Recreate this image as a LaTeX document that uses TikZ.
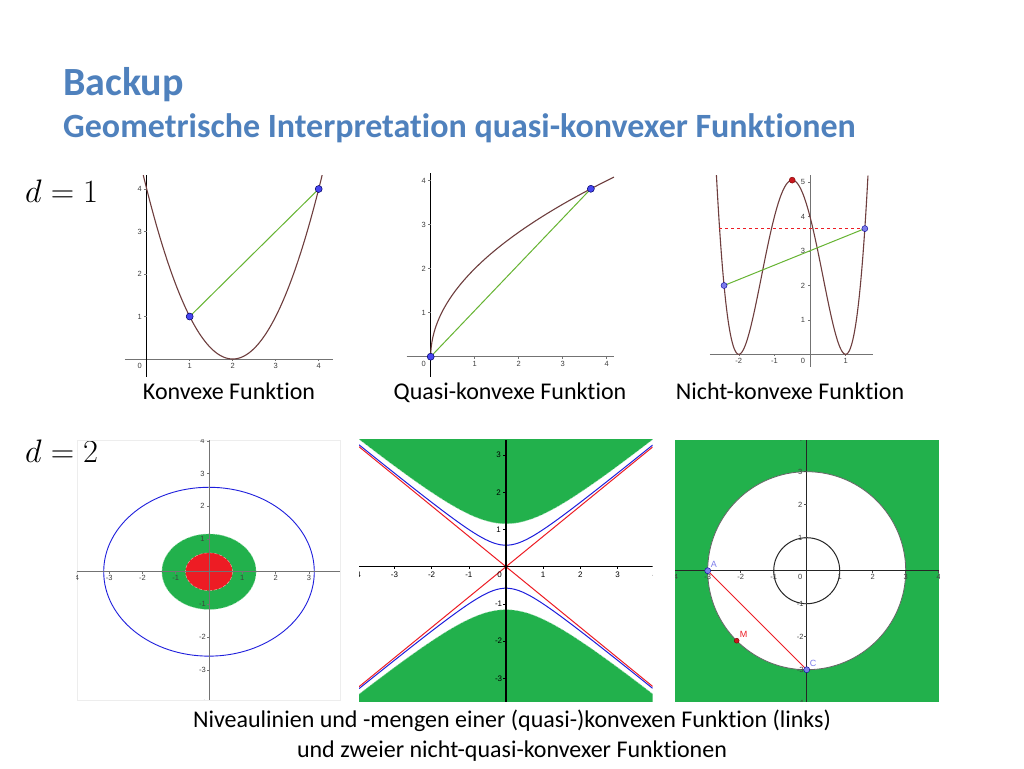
\documentclass[tikz,border=0pt]{standalone}
\usepackage{fix-cm}
\usepackage{fontspec}
\setmainfont{Carlito}[Ligatures=NoCommon]
\newfontfamily\tickfont{Liberation Sans}
\definecolor{titleblue}{RGB}{79,129,189}
\definecolor{curvebrown}{RGB}{110,62,62}
\definecolor{seggreen}{RGB}{102,180,50}
\definecolor{dotblue}{RGB}{70,70,240}
\definecolor{dotlight}{RGB}{125,125,235}
\definecolor{fillgreen}{RGB}{34,177,76}
\definecolor{ggred}{RGB}{237,28,36}
\definecolor{ggblue}{RGB}{30,30,220}
\tikzset{
  axisline/.style={draw=black!55, line width=0.6pt},
  axisdark/.style={draw=black, line width=1pt},
  ticklab/.style={font=\tickfont\fontsize{7.5}{8}\selectfont, text=black!75, inner sep=0pt},
  ticklabdark/.style={font=\tickfont\fontsize{8}{9}\selectfont, text=black, inner sep=0pt},
  curve/.style={draw=curvebrown, line width=1.1pt},
  seg/.style={draw=seggreen, line width=1pt},
  bdot/.style={circle, fill=dotblue, draw=black!60!blue, line width=0.5pt, minimum size=7pt, inner sep=0pt},
  ldot/.style={circle, fill=dotlight, draw=black!40!blue, line width=0.4pt, minimum size=6pt, inner sep=0pt},
  rdot/.style={circle, fill=ggred!85!black, draw=black!50!red, line width=0.4pt, minimum size=6pt, inner sep=0pt},
  caption/.style={font=\fontsize{24}{28}\selectfont, anchor=base, inner sep=0pt},
  ptlab/.style={font=\tickfont\fontsize{9}{10}\selectfont, inner sep=0pt, anchor=south west},
}
\begin{document}
\begin{tikzpicture}[x=1pt,y=-1pt]
\path[use as bounding box, fill=white] (0,0) rectangle (1024,768);

% ---------- titles ----------
\node[font=\bfseries\fontsize{40}{44}\selectfont, text=titleblue, anchor=base west, inner sep=0pt] (title) at (63,95.5) {Backup};
\node[font=\bfseries\fontsize{34}{38}\selectfont, text=titleblue, anchor=base west, inner sep=0pt] (subtitle) at (63,137) {Geometrische Interpretation quasi-konvexer Funktionen};
\node[font=\fontsize{32.5}{36}\selectfont, anchor=base west, inner sep=0pt] (d1) at (25,202) {$d=1$};
\node[font=\fontsize{32.5}{36}\selectfont, anchor=base west, inner sep=0pt] (d2) at (25,462) {$d=2$};

% ---------- plot A: convex ----------
\begin{scope}[shift={(146.7,359)}, x=43pt, y=42.5pt]
  \draw[axisline] (-0.505,0) -- (4.33,0);
  \draw[axisdark] (0,-0.42) -- (0,4.33);
  \foreach \v [count=\k] in {1,2,3,4} {
    \draw[axisline] (\v,0) -- (\v,-0.05);
    \draw[axisline] (0,\v) -- (-0.06,\v);
    \node[ticklab] (ax\k) at (\v,-0.17) {\v};
    \node[ticklab] (ay\k) at (-0.16,\v) {\v};
  }
  \node[ticklab] (ao) at (-0.16,-0.17) {0};
  \draw[curve] plot[domain=-0.08:4.08, samples=120, smooth] (\x,{(\x-2)*(\x-2)});
  \coordinate (ap) at (1,1);
  \coordinate (aq) at (4,4);
  \draw[seg] (ap) -- (aq);
  \node[bdot] (apd) at (ap) {};
  \node[bdot] (aqd) at (aq) {};
\end{scope}
\node[caption] (capA) at (229,399) {Konvexe Funktion};

% ---------- plot B: quasi-convex ----------
\begin{scope}[shift={(430.7,356.7)}, x=44pt, y=44pt]
  \draw[axisline] (-0.545,0) -- (4.17,0);
  \draw[axisdark] (0,-0.45) -- (0,4.17);
  \foreach \v [count=\k] in {1,2,3,4} {
    \draw[axisline] (\v,0) -- (\v,-0.05);
    \draw[axisline] (0,\v) -- (-0.06,\v);
    \node[ticklab] (bx\k) at (\v,-0.17) {\v};
    \node[ticklab] (by\k) at (-0.16,\v) {\v};
  }
  \node[ticklab] (bo) at (-0.16,-0.17) {0};
  \draw[curve] plot[domain=0:2.042, samples=120, smooth] ({\x*\x},{2*\x});
  \coordinate (bp) at (0,0);
  \coordinate (bq) at (3.64,3.816);
  \draw[seg] (bp) -- (bq);
  \node[bdot] (bpd) at (bp) {};
  \node[bdot] (bqd) at (bq) {};
\end{scope}
\node[caption] (capB) at (510,399) {Quasi-konvexe Funktion};

% ---------- plot C: non-convex ----------
\begin{scope}[shift={(810,354.3)}, x=35.6pt, y=34.4pt]
  \draw[axisline] (-2.81,0) -- (1.76,0);
  \draw[axisline] (0,-0.36) -- (0,5.21);
  \foreach \v [count=\k] in {-2,-1,1} {
    \draw[axisline] (\v,0) -- (\v,-0.06);
    \node[ticklab] (cx\k) at (\v,-0.2) {\v};
  }
  \foreach \v [count=\k] in {1,2,3,4,5} {
    \draw[axisline] (0,\v) -- (-0.07,\v);
    \node[ticklab] (cy\k) at (-0.2,\v) {\v};
  }
  \node[ticklab] (co) at (-0.2,-0.2) {0};
  \draw[curve] plot[domain=-2.629:1.629, samples=200, smooth] (\x,{(\x*\x+\x-2)*(\x*\x+\x-2)});
  \coordinate (cl) at (-2.55,3.654);
  \coordinate (cp) at (-2.414,2);
  \coordinate (cq) at (1.54,3.654);
  \coordinate (cm) at (-0.5,5.0625);
  \draw[ggred, dashed, line width=0.8pt] (cl) -- (cq);
  \draw[seg] (cp) -- (cq);
  \node[ldot] (cpd) at (cp) {};
  \node[ldot] (cqd) at (cq) {};
  \node[rdot] (cmd) at (cm) {};
\end{scope}
\node[caption] (capC) at (790,399) {Nicht-konvexe Funktion};

% ---------- plot D: ellipses ----------
\begin{scope}[shift={(209,571.7)}, x=33.3pt, y=32.7pt]
  \draw[black!7, line width=0.5pt] (-3.97,-3.92) rectangle (3.93,4.03);
  \fill[fillgreen] (0,0) ellipse [x radius=1.414, y radius=1.155];
  \draw[white!55!fillgreen, densely dashed, line width=0.4pt] (0,0) ellipse [x radius=1.414, y radius=1.155];
  \fill[ggred] (0,0) ellipse [x radius=0.707, y radius=0.577];
  \draw[ggred!35!white, densely dashed, line width=0.4pt] (0,0) ellipse [x radius=0.707, y radius=0.577];
  \draw[ggblue, line width=0.9pt] (0,0) ellipse [x radius=3.162, y radius=2.582];
  \draw[axisline] (-3.97,0) -- (3.93,0);
  \draw[axisline] (0,-3.92) -- (0,4.03);
  \begin{scope}
    \clip (-3.97,-3.92) rectangle (3.93,4.03);
    \foreach \v [count=\k] in {-4,-3,-2,-1,1,2,3} {
      \draw[axisline] (\v,0) -- (\v,-0.06);
      \node[ticklab] (dx\k) at (\v,-0.2) {\v};
    }
    \foreach \v [count=\k] in {-4,-3,-2,-1,1,2,3,4} {
      \draw[axisline] (0,\v) -- (-0.07,\v);
      \node[ticklab] (dy\k) at (-0.2,\v) {\v};
    }
  \end{scope}
\end{scope}

% ---------- plot E: hyperbolas ----------
\begin{scope}[shift={(506,566.7)}, x=37.2pt, y=37.2pt]
  \begin{scope}
    \clip (-3.95,-3.63) rectangle (3.94,3.41);
    \fill[fillgreen] plot[domain=-3.95:3.94, samples=80, smooth] (\x,{sqrt((2+\x*\x)/1.5)}) -- (3.94,4) -- (-3.95,4) -- cycle;
    \fill[fillgreen] plot[domain=-3.95:3.94, samples=80, smooth] (\x,{-sqrt((2+\x*\x)/1.5)}) -- (3.94,-4) -- (-3.95,-4) -- cycle;
    \draw[white!60!fillgreen, densely dashed, line width=0.4pt] plot[domain=-3.95:3.94, samples=80, smooth] (\x,{sqrt((2+\x*\x)/1.5)});
    \draw[white!60!fillgreen, densely dashed, line width=0.4pt] plot[domain=-3.95:3.94, samples=80, smooth] (\x,{-sqrt((2+\x*\x)/1.5)});
    \draw[ggblue, line width=1pt] plot[domain=-3.95:3.94, samples=80, smooth] (\x,{sqrt((0.5+\x*\x)/1.5)});
    \draw[ggblue, line width=1pt] plot[domain=-3.95:3.94, samples=80, smooth] (\x,{-sqrt((0.5+\x*\x)/1.5)});
    \coordinate (el1) at (-3.95,-3.225);
    \coordinate (er1) at (3.94,3.217);
    \coordinate (el2) at (-3.95,3.225);
    \coordinate (er2) at (3.94,-3.217);
    \draw[ggred, line width=1pt] (el1) -- (er1);
    \draw[ggred, line width=1pt] (el2) -- (er2);
    \draw[axisdark, line width=1.2pt] (-3.95,0) -- (3.94,0);
    \draw[axisdark, line width=1.2pt] (0,-3.63) -- (0,3.41);
    \foreach \v [count=\k] in {-4,-3,-2,-1,1,2,3,4} {
      \draw[black, line width=0.6pt] (\v,0) -- (\v,-0.07);
      \node[ticklabdark] (ex\k) at (\v,-0.22) {\v};
    }
    \foreach \v [count=\k] in {-3,-2,-1,1,2,3} {
      \draw[black, line width=0.6pt] (0,\v) -- (-0.07,\v);
      \node[ticklabdark] (ey\k) at (-0.2,\v) {\v};
    }
    \node[ticklabdark] (eo) at (-0.17,-0.22) {0};
  \end{scope}
\end{scope}

% ---------- plot F: annulus ----------
\begin{scope}[shift={(806.7,570.7)}, x=33pt, y=33pt]
  \fill[fillgreen] (-3.99,-3.97) rectangle (4.02,3.96);
  \fill[white] (0,0) circle (3);
  \draw[black!60, line width=0.8pt] (0,0) circle (3);
  \draw[black!85, line width=1pt] (0,0) circle (1);
  \draw[black!85, line width=0.8pt] (-3.99,0) -- (4.02,0);
  \draw[black!85, line width=0.8pt] (0,-3.97) -- (0,3.96);
  \begin{scope}
    \clip (-3.99,-3.97) rectangle (4.02,3.96);
    \foreach \v [count=\k] in {-4,-3,-2,-1,1,2,3,4} {
      \draw[black!70, line width=0.5pt] (\v,0) -- (\v,-0.07);
      \node[ticklab] (fx\k) at (\v,-0.2) {\v};
      \draw[black!70, line width=0.5pt] (0,\v) -- (-0.07,\v);
      \node[ticklab] (fy\k) at (-0.2,\v) {\v};
    }
    \node[ticklab] (fo) at (-0.2,-0.2) {0};
  \end{scope}
  \coordinate (fA) at (-3,0);
  \coordinate (fC) at (0,-3);
  \coordinate (fM) at (225:3);
  \draw[ggred, line width=0.9pt] (fA) -- (fC);
  \node[ldot] (fAd) at (fA) {};
  \node[ldot] (fCd) at (fC) {};
  \node[rdot, minimum size=5pt] (fMd) at (fM) {};
  \node[ptlab, text=dotlight] (fAl) at ([shift={(3pt,3pt)}]fA) {A};
  \node[ptlab, text=dotlight] (fCl) at ([shift={(3pt,3pt)}]fC) {C};
  \node[ptlab, text=ggred] (fMl) at ([shift={(3pt,3pt)}]fM) {M};
\end{scope}

% ---------- bottom caption ----------
\node[caption] (capD1) at (512,727) {Niveaulinien und -mengen einer (quasi-)konvexen Funktion (links)};
\node[caption] (capD2) at (512,757) {und zweier nicht-quasi-konvexer Funktionen};
\end{tikzpicture}
\end{document}
